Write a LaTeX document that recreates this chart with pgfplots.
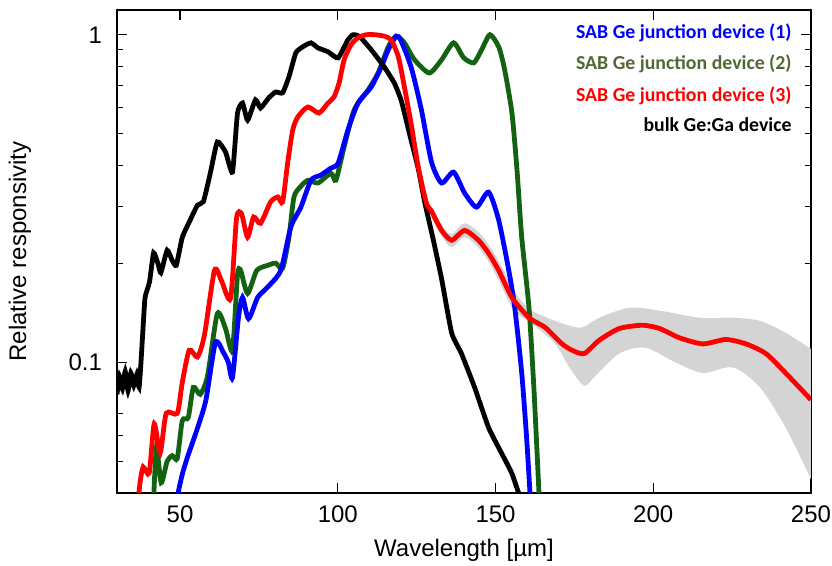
\documentclass[border=0pt]{standalone}
\usepackage{fontspec}
\setmainfont{Liberation Sans}
\newfontfamily\legfont{Carlito}
\usepackage{pgfplots}
\pgfplotsset{compat=1.18}
\usepgfplotslibrary{fillbetween}

\definecolor{devblue}{RGB}{0,0,255}
\definecolor{devgreen}{RGB}{18,98,18}
\definecolor{devred}{RGB}{255,0,0}
\definecolor{legolive}{RGB}{82,104,52}
\definecolor{bandgray}{RGB}{212,212,212}

\begin{document}
\begin{tikzpicture}
\begin{axis}[
  at={(0,0)}, anchor=south west,
  scale only axis, width=347pt, height=241.5pt,
  ymode=log, xmin=30, xmax=250, ymin=0.04, ymax=1.19,
  xtick={50,100,150,200,250},
  ytick={0.1,1}, yticklabels={0.1,1},
  minor ytick={0.05,0.06,0.07,0.2,0.3,0.4,0.5,0.6,0.7,0.8,0.9},
  major tick length=5pt, minor tick length=3pt,
  tick style={black, line width=0.6pt},
  axis line style={line width=0.8pt},
  font=\fontsize{12}{14}\selectfont,
  /pgf/number format/assume math mode=true,
  xticklabel style={yshift=-3pt},
  yticklabel style={xshift=-4pt},
  xlabel={Wavelength [µm]},
  ylabel={Relative responsivity},
  every axis x label/.style={at={(rel axis cs:0.5,0)}, anchor=center, yshift=-28.5pt},
  every axis y label/.style={at={(rel axis cs:0,0.5)}, rotate=90, anchor=center, yshift=48.5pt},
]
% device (2)
\addplot[devgreen, line width=2.4pt, smooth, tension=0.4] coordinates {
(41.5,0.036)(42.5,0.055)(44.0,0.043)(45.9,0.050)(47.5,0.052)(49.1,0.051)(50.7,0.0665)
(52.6,0.068)(54.2,0.084)(56.4,0.080)(58.7,0.091)(61.8,0.141)(64.4,0.127)(66.6,0.109)
(68.2,0.185)(69.2,0.191)(71.4,0.1625)(74.3,0.191)(77.8,0.198)(80.3,0.201)(82.5,0.194)
(84.5,0.241)(86.1,0.320)(88.3,0.345)(90.6,0.360)(93.7,0.353)(97.8,0.378)(99.4,0.360)
(102.0,0.455)(105.2,0.590)(109.6,0.679)(112.8,0.765)(116.0,0.919)(118.5,0.99)(121.1,0.945)
(124.3,0.839)(129.0,0.765)(132.9,0.839)(136.7,0.945)(139.9,0.851)(143.1,0.821)(145.6,0.90)
(148.2,1.0)(151.0,0.919)(152.9,0.781)(155.2,0.577)(156.8,0.387)(158.3,0.241)(160.6,0.147)
(162.2,0.082)(164.0,0.036)};
% device (1)
\addplot[devblue, line width=2.4pt, smooth, tension=0.4] coordinates {
(48.5,0.036)(49.6,0.041)(50.8,0.046)(52.5,0.052)(55.5,0.063)(58.2,0.077)(61.2,0.115)
(63.8,0.107)(65.3,0.100)(66.6,0.090)(68.5,0.137)(69.8,0.158)(71.7,0.136)(74.6,0.158)
(77.8,0.170)(81.9,0.191)(85.1,0.259)(88.3,0.298)(91.5,0.360)(94.6,0.373)(97.8,0.392)
(100.1,0.406)(103.2,0.512)(106.4,0.619)(110.6,0.693)(113.8,0.798)(116.0,0.90)(118.5,0.99)
(120.0,0.96)(123.3,0.793)(126.5,0.590)(129.7,0.409)(132.9,0.353)(136.7,0.381)(140.2,0.329)
(144.0,0.298)(147.8,0.331)(151.0,0.272)(154.2,0.191)(156.1,0.147)(158.3,0.093)(159.9,0.058)
(161.2,0.036)};
% bulk Ge:Ga
\addplot[black, line width=2.4pt, smooth, tension=0.3] coordinates {
(30,0.080)(30.8,0.091)(31.7,0.083)(32.6,0.094)(33.5,0.082)(34.4,0.093)(35.3,0.085)
(36.3,0.092)(37.0,0.084)(37.6,0.100)(38.2,0.125)(38.9,0.158)(40.3,0.176)(41.6,0.216)
(43.0,0.200)(43.9,0.188)(45.9,0.220)(47.5,0.205)(48.8,0.198)(50.7,0.241)(53.2,0.272)
(55.5,0.302)(57.4,0.310)(59.6,0.379)(61.8,0.471)(64.4,0.439)(66.6,0.381)(68.2,0.577)
(69.8,0.619)(71.4,0.549)(73.9,0.633)(75.5,0.598)(78.1,0.642)(80.3,0.669)(82.5,0.665)
(84.5,0.744)(86.7,0.881)(88.9,0.919)(91.5,0.945)(93.7,0.912)(96.9,0.887)(100.1,0.850)
(103.2,0.965)(104.8,1.0)(106.8,0.99)(110.6,0.90)(114.7,0.798)(117.9,0.713)(120.1,0.63)
(122.7,0.50)(125.5,0.39)(127.5,0.31)(130.3,0.236)(132.9,0.180)(136.1,0.123)(139.2,0.1065)
(143.4,0.0838)(147.8,0.0633)(152.0,0.0527)(155.2,0.0458)(158.5,0.037)};
% uncertainty band of device (3)
\addplot[name path=up, draw=none, smooth] coordinates {
(128,0.318)(132.9,0.263)(136.1,0.247)(140.2,0.266)(144.6,0.250)(147.8,0.229)(151,0.204)
(155.2,0.170)(158,0.155)(161.5,0.144)(168,0.135)(173,0.130)(177.5,0.128)(182.9,0.137)
(192.4,0.147)(202,0.144)(214.7,0.137)(225.2,0.137)(233.8,0.134)(242.1,0.123)(250,0.110)};
\addplot[name path=lo, draw=none, smooth] coordinates {
(128,0.295)(132.9,0.243)(136.1,0.225)(140.2,0.241)(144.6,0.224)(147.8,0.203)(151,0.178)
(155.2,0.147)(158,0.138)(161.5,0.1316)(168.9,0.114)(173.3,0.097)(178.1,0.085)(181.6,0.091)
(189.2,0.1065)(197.5,0.111)(207.1,0.100)(215.7,0.093)(225.2,0.0966)(233.8,0.084)
(242.1,0.063)(250,0.044)};
\addplot[bandgray] fill between[of=up and lo];
% device (3)
\addplot[devred, line width=2.4pt, smooth, tension=0.4] coordinates {
(36.5,0.036)(37.3,0.043)(38.3,0.048)(40.2,0.046)(41.8,0.065)(43.7,0.053)(45.6,0.070)
(49.1,0.070)(50.7,0.087)(52.9,0.109)(55.5,0.104)(57.7,0.121)(60.9,0.191)(63.1,0.178)
(66.0,0.157)(67.9,0.276)(69.5,0.284)(71.4,0.241)(73.3,0.278)(75.5,0.266)(78.7,0.309)
(81.0,0.320)(82.5,0.309)(84.1,0.406)(85.7,0.512)(87.3,0.561)(90.5,0.602)(94.0,0.577)
(96.9,0.619)(98.8,0.646)(100.4,0.713)(102.0,0.839)(104.2,0.932)(106.4,0.979)(109,1.0)
(112,1.0)(114.7,0.99)(116.9,0.965)(119.2,0.856)(121.1,0.693)(123.3,0.531)(125.5,0.395)
(128.1,0.306)(129.7,0.290)(132.9,0.253)(136.1,0.236)(140.2,0.253)(144.6,0.236)(147.8,0.2155)
(151.0,0.191)(155.2,0.158)(160.6,0.137)(165.7,0.128)(171.1,0.114)(174.3,0.109)(178.1,0.1065)
(182.9,0.117)(189.2,0.127)(196.6,0.130)(202.0,0.127)(208.3,0.119)(215.7,0.114)(223.0,0.1176)
(229.4,0.114)(235.7,0.1065)(242.1,0.0926)(250,0.077)};
% labels
\begin{scope}[every node/.style={anchor=base east, inner sep=0pt,
    font=\legfont\bfseries\fontsize{9.9}{12}\selectfont}]
\node[text=devblue] at (rel axis cs:0.9726,0.940) {SAB Ge junction device (1)};
\node[text=legolive] at (rel axis cs:0.9726,0.877) {SAB Ge junction device (2)};
\node[text=devred] at (rel axis cs:0.9726,0.8106) {SAB Ge junction device (3)};
\node[text=black] at (rel axis cs:0.9726,0.748) {bulk Ge:Ga device};
\end{scope}
\end{axis}
\pgfresetboundingbox
\path[use as bounding box] ([shift={(-58.5pt,-36.5pt)}]current axis.south west)
  rectangle ([shift={(10.5pt,5pt)}]current axis.north east);
\end{tikzpicture}
\end{document}
